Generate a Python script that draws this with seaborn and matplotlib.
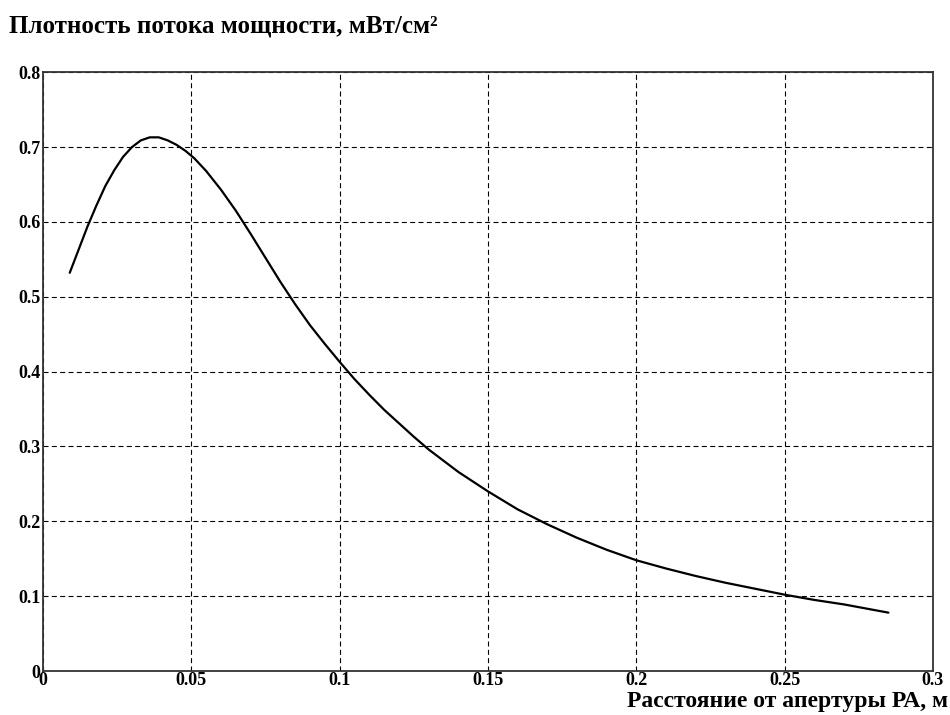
import matplotlib
matplotlib.use("Agg")
import matplotlib.pyplot as plt
import pandas as pd
import seaborn as sb

# расстояние от апертуры, м
rasst = [0.009, 0.012, 0.015, 0.018, 0.021, 0.024, 0.027, 0.030, 0.033, 0.036,
         0.039, 0.042, 0.045, 0.048, 0.051, 0.055, 0.060, 0.065, 0.070, 0.075,
         0.080, 0.085, 0.090, 0.095, 0.100, 0.105, 0.110, 0.115, 0.120, 0.125,
         0.130, 0.140, 0.150, 0.160, 0.170, 0.180, 0.190, 0.200, 0.210, 0.220,
         0.230, 0.240, 0.250, 0.260, 0.270, 0.285]
# плотность потока мощности, мВт/см2
ppm = [0.532, 0.563, 0.594, 0.622, 0.648, 0.669, 0.687, 0.700, 0.709, 0.713,
       0.713, 0.709, 0.703, 0.695, 0.685, 0.668, 0.643, 0.615, 0.584, 0.552,
       0.520, 0.490, 0.462, 0.437, 0.413, 0.390, 0.369, 0.349, 0.331, 0.313,
       0.296, 0.266, 0.240, 0.216, 0.196, 0.178, 0.162, 0.148, 0.137, 0.127,
       0.118, 0.110, 0.102, 0.095, 0.089, 0.078]

xticks = [0, 0.05, 0.1, 0.15, 0.2, 0.25, 0.3]
xtick_labels = ["0", "0.05", "0.1", "0.15", "0.2", "0.25", "0.3"]
yticks = [0, 0.1, 0.2, 0.3, 0.4, 0.5, 0.6, 0.7, 0.8]
ytick_labels = ["0", "0.1", "0.2", "0.3", "0.4", "0.5", "0.6", "0.7", "0.8"]

sb.set_style("white")
plt.rcParams['font.family'] = ['Liberation Serif', 'DejaVu Serif']
plt.rcParams['font.weight'] = 'bold'
plt.rcParams['text.color'] = 'black'
plt.rcParams['xtick.color'] = 'black'
plt.rcParams['ytick.color'] = 'black'

df = pd.DataFrame({"x": rasst, "y": ppm})

f = plt.figure(figsize=(9.5, 7.15), dpi=100)
ax = f.add_axes([0.0453, 0.0615, 0.9367, 0.8375])
sb.lineplot(data=df, x="x", y="y", ax=ax, color="black", linewidth=1.6)

ax.set_xlim(0, 0.3)
ax.set_ylim(0, 0.8)
ax.set_xticks(xticks)
ax.set_xticklabels(xtick_labels, fontsize=13, fontweight='bold')
ax.set_yticks(yticks)
ax.set_yticklabels(ytick_labels, fontsize=13, fontweight='bold')
ax.tick_params(direction='in', length=4, width=1)
ax.tick_params(axis='x', pad=1)
ax.tick_params(axis='y', pad=2)
ax.grid(True, color='black', linestyle=(0, (4.5, 3)), linewidth=0.8)
for s in ax.spines.values():
    s.set_color('#333333')
    s.set_linewidth(1.3)
ax.set_xlabel("")
ax.set_ylabel("")

f.text(0.009, 0.955, "Плотность потока мощности, мВт/см²", fontsize=18,
       fontweight='bold', ha='left', va='baseline')
f.text(0.998, 0.011, "Расстояние от апертуры РА, м", fontsize=17,
       fontweight='bold', ha='right', va='baseline')

f.savefig("out.png", dpi=100)
